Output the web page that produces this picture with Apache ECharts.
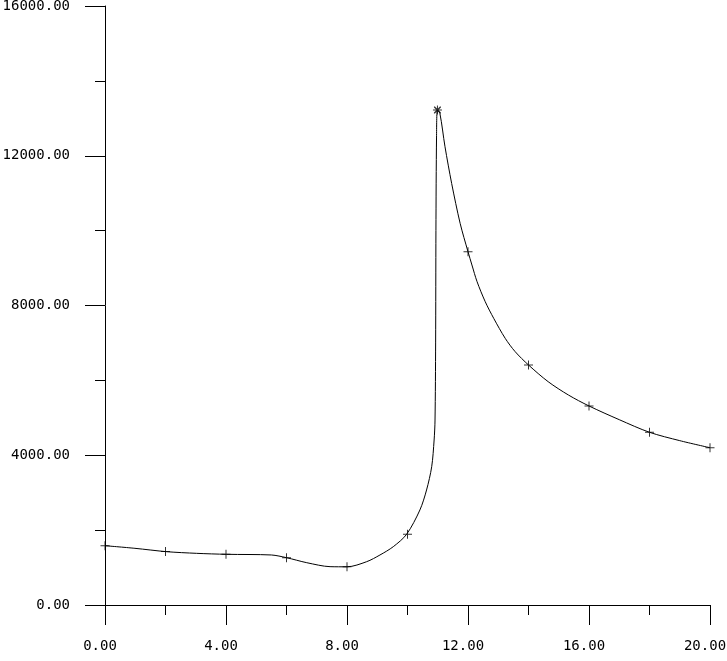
<!DOCTYPE html>
<html>
<head>
<meta charset="utf-8">
<script src="https://cdn.jsdelivr.net/npm/echarts@6/dist/echarts.min.js"></script>
<style>
  html, body { margin: 0; padding: 0; background: #fff; }
  #main { width: 727px; height: 661px; }
</style>
</head>
<body>
<div id="main"></div>
<script>
  // curve
  var curveX = [0, 0.99, 2.04, 3.03, 4.02, 5.5, 6.0, 6.67, 7.44, 8.0, 8.65, 9.09, 9.53, 9.97, 10.41, 10.63, 10.8, 10.88, 10.91, 10.93, 10.94, 10.96, 10.99, 11.07, 11.24, 11.46, 11.74, 12.0, 12.13, 12.3, 12.57, 12.85, 13.23, 13.56, 14.0, 14.65, 15.32, 16.0, 17.0, 18.0, 19.0, 20.0];
  var curveY = [1584, 1514, 1424, 1380, 1354, 1336, 1264, 1130, 1024, 1020, 1157, 1336, 1558, 1888, 2538, 3072, 3694, 4407, 4941, 7000, 10000, 12500, 13222, 13133, 12240, 11260, 10195, 9437, 9082, 8636, 8101, 7657, 7123, 6766, 6411, 5965, 5609, 5316, 4950, 4613, 4390, 4201];

  // plotted markers
  var markX = [0, 2, 4, 6, 8, 10, 12, 14, 16, 18, 20];
  var markY = [1584, 1430, 1354, 1264, 1020, 1888, 9437, 6411, 5316, 4613, 4201];
  var peakX = [10.99];
  var peakY = [13222];

  function pairs(xs, ys) {
    var out = [];
    for (var i = 0; i < xs.length; i++) {
      out.push([xs[i], ys[i]]);
    }
    return out;
  }

  var labelFont = {
    fontFamily: 'DejaVu Sans Mono',
    fontSize: 14,
    color: '#000'
  };

  var myChart = echarts.init(document.getElementById('main'));
  myChart.setOption({
    animation: false,
    grid: {
      left: 105,
      right: 17,
      top: 6,
      bottom: 56,
      outerBoundsMode: 'none'
    },
    xAxis: {
      type: 'value',
      min: 0,
      max: 20,
      interval: 4,
      splitLine: { show: false },
      axisLine: { onZero: false, lineStyle: { color: '#000', width: 1 } },
      axisTick: { length: 20, lineStyle: { color: '#000' } },
      minorTick: { show: true, splitNumber: 2, length: 10, lineStyle: { color: '#000' } },
      axisLabel: Object.assign({
        margin: 34,
        padding: [0, 10, 0, 0],
        formatter: function (v) { return v.toFixed(2); }
      }, labelFont)
    },
    yAxis: {
      type: 'value',
      min: 0,
      max: 16000,
      interval: 4000,
      splitLine: { show: false },
      axisLine: { lineStyle: { color: '#000', width: 1 } },
      axisTick: { length: 20, lineStyle: { color: '#000' } },
      minorTick: { show: true, splitNumber: 2, length: 10, lineStyle: { color: '#000' } },
      axisLabel: Object.assign({
        margin: 35,
        padding: [8, 0, 0, 0],
        formatter: function (v) { return v.toFixed(2); }
      }, labelFont)
    },
    series: [
      {
        type: 'line',
        data: pairs(curveX, curveY),
        smooth: 0.3,
        symbol: 'none',
        lineStyle: { color: '#000', width: 1 }
      },
      {
        type: 'scatter',
        data: pairs(markX, markY),
        symbol: 'path://M0,4 H9 V5 H0 Z M4,0 H5 V9 H4 Z',
        symbolSize: 9,
        itemStyle: { color: '#000' }
      },
      {
        type: 'scatter',
        data: pairs(peakX, peakY),
        symbol: 'path://M0,4 H9 V5 H0 Z M4,0 H5 V9 H4 Z M1,1 L2,1 L8,7 L8,8 L7,8 L1,2 Z M7,1 L8,1 L8,2 L2,8 L1,8 L1,7 Z',
        symbolSize: 9,
        itemStyle: { color: '#000' }
      }
    ]
  });
</script>
</body>
</html>
